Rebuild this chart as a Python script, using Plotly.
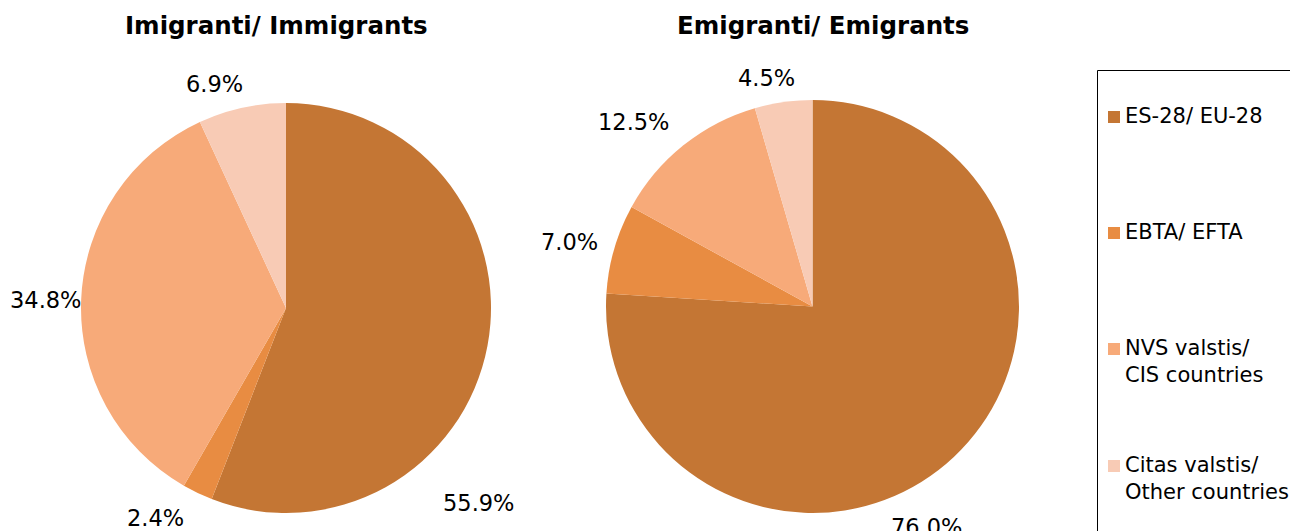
import plotly.graph_objects as go

categories = ["ES-28/ EU-28", "EBTA/ EFTA", "NVS valstis/<br>CIS countries", "Citas valstis/<br>Other countries"]
immigrants = [55.9, 2.4, 34.8, 6.9]
emigrants = [76.0, 7.0, 12.5, 4.5]
titles = ["Imigranti/ Immigrants", "Emigranti/ Emigrants"]

colors = ["#C47634", "#E88C42", "#F7AA79", "#F8CBB5"]
W, H = 1290, 531
FONT = "DejaVu Sans"

def px(x):
    return x / W

def py(y):
    return 1 - y / H

fig = go.Figure()
for vals, dom in [(immigrants, dict(x=[px(81), px(491)], y=[py(513), py(103)])),
                  (emigrants, dict(x=[px(606), px(1019)], y=[py(513), py(100)]))]:
    fig.add_trace(go.Pie(
        labels=categories, values=vals, sort=False, direction="clockwise",
        rotation=0, marker=dict(colors=colors, line=dict(width=0)),
        textinfo="none", hoverinfo="label+percent", showlegend=False,
        domain=dom,
    ))

# Percentage labels (text from data; placement as layout style)
label_pos = [
    [(478, 503), (155, 518), (45, 300), (214, 84)],
    [(926, 527), (569, 242), (633, 122), (766, 78)],
]
annotations = []
for vals, poss in zip([immigrants, emigrants], label_pos):
    for v, (x, y) in zip(vals, poss):
        annotations.append(dict(x=px(x), y=py(y), xref="paper", yref="paper",
                                text=f"{v:.1f}%", showarrow=False,
                                xanchor="center", yanchor="middle",
                                font=dict(family=FONT, size=22.5, color="#000000")))

for t, x in zip(titles, [276, 823]):
    annotations.append(dict(x=px(x), y=py(26), xref="paper", yref="paper",
                            text=f"<b>{t}</b>", showarrow=False,
                            xanchor="center", yanchor="middle",
                            font=dict(family=FONT, size=24.5, color="#000000")))

# Legend (box, swatches, labels)
shapes = [dict(type="rect", xref="paper", yref="paper",
               x0=px(1097.5), x1=px(1330), y0=py(600), y1=py(70.5),
               line=dict(color="#000000", width=1), fillcolor="rgba(0,0,0,0)")]
leg_y = [117, 233, 349, 466]
for c, name, y in zip(colors, categories, leg_y):
    shapes.append(dict(type="rect", xref="paper", yref="paper",
                       x0=px(1108), x1=px(1120), y0=py(y + 6), y1=py(y - 6),
                       line=dict(width=0), fillcolor=c))
    annotations.append(dict(x=px(1123), y=py(y - 15), xref="paper", yref="paper",
                            text=name, showarrow=False, align="left",
                            xanchor="left", yanchor="top",
                            font=dict(family=FONT, size=21, color="#000000")))

fig.update_layout(
    width=W, height=H,
    margin=dict(l=0, r=0, t=0, b=0),
    paper_bgcolor="#FFFFFF", plot_bgcolor="#FFFFFF",
    annotations=annotations, shapes=shapes,
    font=dict(family=FONT),
)
fig.write_html("out.html", config={"displayModeBar": False},
               post_script="document.body.style.margin='0px';document.body.style.overflow='hidden';")
